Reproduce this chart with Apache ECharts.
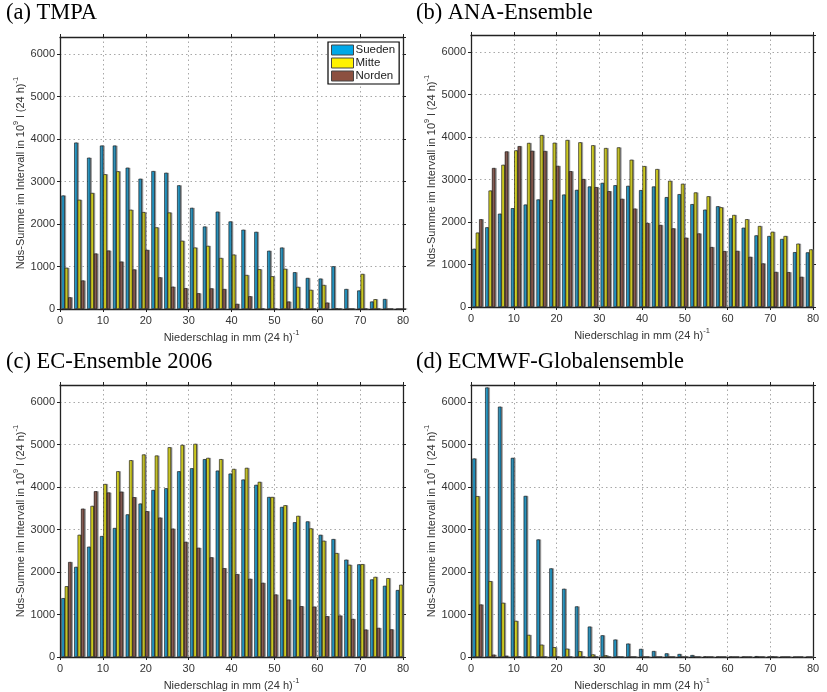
<!DOCTYPE html>
<html>
<head>
<meta charset="utf-8">
<script src="https://cdn.jsdelivr.net/npm/echarts@6/dist/echarts.min.js"></script>
<style>
  html, body { margin: 0; padding: 0; background: #fff; }
  #chart { width: 827px; height: 692px; }
</style>
</head>
<body>
<div id="chart"></div>
<script>
// Klassenmitten (mm / 24 h), Breite 3 mm
const binCenters = [1.5, 4.5, 7.5, 10.5, 13.5, 16.5, 19.5, 22.5, 25.5, 28.5, 31.5, 34.5, 37.5, 40.5,
  43.5, 46.5, 49.5, 52.5, 55.5, 58.5, 61.5, 64.5, 67.5, 70.5, 73.5, 76.5, 79.5]
const xTicks = [0, 10, 20, 30, 40, 50, 60, 70, 80]
const yTicks = [0, 1000, 2000, 3000, 4000, 5000, 6000]
const regions = ['Sueden', 'Mitte', 'Norden']
const panelTitles = ['(a) TMPA', '(b) ANA-Ensemble', '(c) EC-Ensemble 2006', '(d) ECMWF-Globalensemble']

// (a) TMPA
const tmpaSueden = [2670, 3915, 3560, 3845, 3845, 3325, 3065, 3245, 3205, 2910, 2380, 1940, 2290, 2060,
  1865, 1815, 1370, 1445, 865, 730, 715, 1005, 470, 435, 175, 235, 0]
const tmpaMitte = [970, 2570, 2730, 3170, 3240, 2335, 2280, 1920, 2270, 1605, 1445, 1485, 1200, 1280,
  800, 935, 770, 945, 520, 450, 565, 10, 0, 825, 230, 0, 0]
const tmpaNorden = [275, 670, 1305, 1375, 1115, 930, 1390, 745, 525, 490, 370, 485, 470, 120,
  300, 0, 0, 175, 0, 0, 150, 0, 0, 0, 0, 0, 0]

// (b) ANA-Ensemble  (letzter Norden-Balken liegt ausserhalb der Achse -> null)
const anaSueden = [1370, 1875, 2195, 2325, 2410, 2530, 2520, 2645, 2755, 2835, 2920, 2865, 2850, 2750,
  2835, 2585, 2655, 2420, 2290, 2370, 2085, 1865, 1685, 1670, 1600, 1290, 1285]
const anaMitte = [1750, 2740, 3345, 3685, 3860, 4045, 3865, 3930, 3875, 3805, 3740, 3755, 3465, 3315,
  3245, 2970, 2900, 2695, 2605, 2345, 2165, 2065, 1905, 1770, 1670, 1490, 1355]
const anaNorden = [2065, 3270, 3660, 3785, 3675, 3670, 3320, 3195, 3010, 2820, 2725, 2545, 2315, 1975,
  1930, 1850, 1630, 1730, 1410, 1315, 1320, 1180, 1025, 825, 820, 710, null]

// (c) EC-Ensemble 2006
const ecSueden = [1385, 2120, 2595, 2845, 3035, 3355, 3610, 3930, 3970, 4370, 4440, 4655, 4385, 4315,
  4175, 4050, 3765, 3530, 3170, 3190, 2875, 2775, 2290, 2180, 1825, 1675, 1575]
const ecMitte = [1665, 2875, 3555, 4070, 4370, 4630, 4765, 4740, 4935, 4990, 5015, 4685, 4655, 4425,
  4450, 4120, 3765, 3570, 3320, 3025, 2735, 2445, 2170, 2185, 1885, 1855, 1700]
const ecNorden = [2235, 3490, 3900, 3870, 3890, 3760, 3430, 3280, 3020, 2710, 2570, 2345, 2090, 1950,
  1840, 1745, 1470, 1350, 1195, 1185, 960, 975, 895, 645, 685, 650, null]

// (d) ECMWF-Globalensemble
const ecmwfSueden = [4670, 6340, 5890, 4685, 3790, 2765, 2085, 1605, 1190, 715, 510, 410, 315, 190,
  140, 85, 70, 45, 10, 5, 5, 5, 20, 5, 0, 0, 0]
const ecmwfMitte = [3785, 1785, 1275, 850, 520, 290, 230, 195, 135, 60, 40, 5, 0, 0,
  0, 0, 0, 0, 0, 0, 0, 0, 0, 10, 0, 0, 0]
const ecmwfNorden = [1235, 55, 30, 5, 0, 0, 0, 0, 0, 0, 0, 0, 0, 0,
  0, 0, 0, 0, 0, 0, 0, 0, 0, 0, 0, 0, null]

const panelData = [
  [tmpaSueden, tmpaMitte, tmpaNorden],
  [anaSueden, anaMitte, anaNorden],
  [ecSueden, ecMitte, ecNorden],
  [ecmwfSueden, ecmwfMitte, ecmwfNorden]
]

// Plotbereiche in Pixeln
const grids = [
  { left: 60, top: 37, width: 343, height: 272 },
  { left: 471, top: 35, width: 342, height: 272 },
  { left: 60, top: 385, width: 343, height: 272 },
  { left: 471, top: 385, width: 342, height: 272 }
]
const titlePos = [[6, 2], [416, 2], [6, 351], [416, 351]]

// Farben: dunkel / hell / Mitte
const barColors = {
  Sueden: ['#0a5a86', '#0faeea', '#137fb2'],
  Mitte: ['#8f8400', '#ffff10', '#c8bb00'],
  Norden: ['#4f2a1f', '#95574a', '#6f3e30']
}
const legendColors = { Sueden: '#00a8e8', Mitte: '#fff200', Norden: '#8c5040' }

const axisColor = '#222'
const labelColor = '#333'
const sans = 'Liberation Sans, Arial, sans-serif'

const xAxes = []
const yAxes = []
const series = []

grids.forEach((g, i) => {
  const xTickSet = new Set(xTicks)
  const yTickSet = new Set(yTicks)
  xAxes.push({
    gridIndex: i, type: 'value', position: 'bottom', min: xTicks[0], max: xTicks[xTicks.length - 1], interval: 10,
    axisLine: { show: true, onZero: false, lineStyle: { color: axisColor, width: 1.3 } },
    axisTick: { show: true, length: 3, lineStyle: { color: axisColor } },
    axisLabel: { color: labelColor, fontSize: 11, fontFamily: sans, margin: 6,
      formatter: v => xTickSet.has(v) ? String(v) : '' },
    splitLine: { show: true, lineStyle: { color: '#a8a8a8', type: [1.5, 3], width: 1 } },
    name: '{n|Niederschlag in mm (24 h)}{s|-1}',
    nameLocation: 'middle', nameGap: 20,
    nameTextStyle: {
      rich: {
        n: { fontSize: 11, fontFamily: sans, color: labelColor, lineHeight: 14, verticalAlign: 'bottom' },
        s: { fontSize: 7.5, fontFamily: sans, color: labelColor, lineHeight: 14, verticalAlign: 'top' }
      }
    }
  })
  xAxes.push({
    gridIndex: i, type: 'value', position: 'top', min: xTicks[0], max: xTicks[xTicks.length - 1], interval: 10,
    axisLine: { show: true, onZero: false, lineStyle: { color: axisColor, width: 1.3 } },
    axisTick: { show: true, length: 3, lineStyle: { color: axisColor } },
    axisLabel: { show: false }, splitLine: { show: false }
  })
  yAxes.push({
    gridIndex: i, type: 'value', position: 'left', min: 0, max: 6400, interval: 1000,
    axisLine: { show: true, onZero: false, lineStyle: { color: axisColor, width: 1.3 } },
    axisTick: { show: true, length: 3, lineStyle: { color: axisColor } },
    axisLabel: { color: labelColor, fontSize: 11, fontFamily: sans, margin: 5, showMaxLabel: false,
      formatter: v => yTickSet.has(v) ? String(v) : '' },
    splitLine: { show: true, lineStyle: { color: '#a8a8a8', type: [1.5, 3], width: 1 } },
    name: '{n|Nds-Summe im Intervall in 10}{s|9}{n| l (24 h)}{s|-1}',
    nameLocation: 'middle', nameGap: 34,
    nameTextStyle: {
      rich: {
        n: { fontSize: 11, fontFamily: sans, color: labelColor, lineHeight: 14, verticalAlign: 'bottom' },
        s: { fontSize: 7.5, fontFamily: sans, color: labelColor, lineHeight: 14, verticalAlign: 'top' }
      }
    }
  })
  yAxes.push({
    gridIndex: i, type: 'value', position: 'right', min: 0, max: 6400, interval: 1000,
    axisLine: { show: true, onZero: false, lineStyle: { color: axisColor, width: 1.3 } },
    axisTick: { show: true, length: 3, lineStyle: { color: axisColor } },
    axisLabel: { show: false }, splitLine: { show: false }
  })

  regions.forEach((name, k) => {
    const c = barColors[name]
    series.push({
      name: name,
      type: 'bar',
      xAxisIndex: 2 * i,
      yAxisIndex: 2 * i,
      barWidth: 3.4,
      barGap: '0%',
      clip: true,
      data: binCenters.map((x, j) => [x, panelData[i][k][j]]),
      itemStyle: {
        color: new echarts.graphic.LinearGradient(0, 0, 1, 0, [
          { offset: 0, color: c[0] },
          { offset: 0.4, color: c[1] },
          { offset: 1, color: c[2] }
        ]),
        borderColor: '#1a1a1a',
        borderWidth: 0.6,
        shadowColor: 'rgba(110,110,110,0.75)',
        shadowOffsetX: 1.3,
        shadowBlur: 0
      },
      emphasis: { disabled: true }
    })
  })
})

const chart = echarts.init(document.getElementById('chart'), null, { renderer: 'canvas' })

chart.setOption({
  animation: false,
  backgroundColor: '#fff',
  title: panelTitles.map((t, i) => ({
    text: t,
    left: titlePos[i][0],
    top: titlePos[i][1],
    padding: 0,
    textStyle: { fontFamily: 'Liberation Serif, Times New Roman, serif', fontSize: 22.5, fontWeight: 'normal', color: '#000' }
  })),
  legend: {
    orient: 'vertical',
    left: 328,
    top: 42,
    padding: [2, 4, 2, 3],
    itemGap: 1,
    itemWidth: 22,
    itemHeight: 10,
    icon: 'rect',
    borderColor: '#000',
    borderWidth: 1.2,
    borderRadius: 0,
    backgroundColor: '#fff',
    textStyle: { fontFamily: sans, fontSize: 11.5, color: '#222', padding: [0, 0, 0, -3] },
    data: regions.map(n => ({
      name: n,
      itemStyle: { color: legendColors[n], borderColor: '#444', borderWidth: 1, shadowColor: 'transparent' }
    }))
  },
  grid: grids.map(g => ({ ...g, containLabel: false })),
  xAxis: xAxes,
  yAxis: yAxes,
  series: series
})
</script>
</body>
</html>
